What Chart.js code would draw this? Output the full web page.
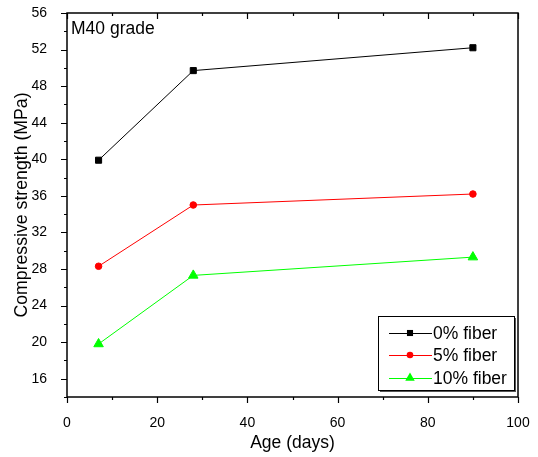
<!DOCTYPE html>
<html>
<head>
<meta charset="utf-8">
<script src="https://cdn.jsdelivr.net/npm/chart.js@4.4.0/dist/chart.umd.min.js"></script>
<style>
  body { margin: 0; background: #fff; }
  canvas { display: block; }
</style>
</head>
<body>
<canvas id="chart" width="538" height="457"></canvas>
<script>
// age in days and compressive strength (MPa), M40 grade
const days = [7, 28, 90]
const fiber0 = [39.9, 49.7, 52.2]
const fiber5 = [28.3, 35.0, 36.2]
const fiber10 = [19.8, 27.3, 29.3]
const seriesLabels = ['0% fiber', '5% fiber', '10% fiber']
const xTicks = [0, 20, 40, 60, 80, 100]
const yTicks = [16, 20, 24, 28, 32, 36, 40, 44, 48, 52, 56]

const FONT = 'Arial, "Liberation Sans", sans-serif'

function toPoints(vals) {
    return days.map((d, i) => ({ x: d, y: vals[i] }))
}

function marker(ctx, style, x, y, r) {
    ctx.beginPath()
    if (style == 'rect') {
        let s = r * Math.SQRT1_2
        ctx.rect(x - s, y - s, 2 * s, 2 * s)
    } else if (style == 'circle') {
        ctx.arc(x, y, r, 0, Math.PI * 2)
    } else {
        let w = r * Math.sqrt(3) / 2
        ctx.moveTo(x, y - r)
        ctx.lineTo(x + w, y + r / 2)
        ctx.lineTo(x - w, y + r / 2)
        ctx.closePath()
    }
    ctx.fill()
}

// frame, origin-style ticks, inner label and legend
const framePlugin = {
    id: 'frame',
    afterDraw(chart) {
        const ctx = chart.ctx
        const a = chart.chartArea
        const xs = chart.scales.x, ys = chart.scales.y
        ctx.save()
        ctx.strokeStyle = '#000'
        ctx.lineWidth = 1.5
        ctx.strokeRect(a.left, a.top, a.right - a.left, a.bottom - a.top)

        ctx.lineWidth = 1.2
        ctx.beginPath()
        for (let v = 0; v <= 100; v += 10) {
            let px = Math.round(xs.getPixelForValue(v)) + 0.5
            let len = v % 20 == 0 ? 6 : 3
            ctx.moveTo(px, a.bottom); ctx.lineTo(px, a.bottom + len)
            ctx.moveTo(px, a.top); ctx.lineTo(px, a.top + len)
        }
        for (let v = 14; v <= 56; v += 2) {
            let py = Math.round(ys.getPixelForValue(v)) + 0.5
            let len = v % 4 == 0 ? 6 : 3
            ctx.moveTo(a.left, py); ctx.lineTo(a.left - len, py)
        }
        ctx.stroke()

        ctx.fillStyle = '#000'
        ctx.font = '17.5px ' + FONT
        ctx.textBaseline = 'middle'
        ctx.textAlign = 'left'
        ctx.fillText('M40 grade', 71, 29)

        // legend box
        const bx = 378, by = 316, bw = 136, bh = 74
        ctx.fillStyle = '#555'
        ctx.fillRect(bx + 2, by + 2, bw, bh)
        ctx.fillStyle = '#fff'
        ctx.fillRect(bx, by, bw, bh)
        ctx.lineWidth = 1
        ctx.strokeStyle = '#000'
        ctx.strokeRect(bx + 0.5, by + 0.5, bw, bh)
        const rows = [333, 355, 378]
        chart.data.datasets.forEach((ds, i) => {
            let y = rows[i]
            ctx.strokeStyle = ds.borderColor
            ctx.lineWidth = 1
            ctx.beginPath()
            ctx.moveTo(389, y + 0.5); ctx.lineTo(432, y + 0.5)
            ctx.stroke()
            ctx.fillStyle = ds.pointBackgroundColor
            marker(ctx, ds.pointStyle, 410, y, ds.pointRadius)
            ctx.fillStyle = '#000'
            ctx.font = '17.5px ' + FONT
            ctx.fillText(ds.label, 433, y + 1)
        })
        ctx.restore()
    }
}

const ctx = document.getElementById('chart')
const config = {
    type: 'line',
    data: {
        datasets: [{
            label: seriesLabels[0],
            data: toPoints(fiber0),
            borderColor: '#000000',
            pointBackgroundColor: '#000000',
            pointBorderColor: '#000000',
            pointStyle: 'rect',
            pointRadius: 4.3,
            borderWidth: 1
        }, {
            label: seriesLabels[1],
            data: toPoints(fiber5),
            borderColor: '#ff0000',
            pointBackgroundColor: '#ff0000',
            pointBorderColor: '#ff0000',
            pointStyle: 'circle',
            pointRadius: 3.3,
            borderWidth: 1
        }, {
            label: seriesLabels[2],
            data: toPoints(fiber10),
            borderColor: '#00ff00',
            pointBackgroundColor: '#00ff00',
            pointBorderColor: '#00ff00',
            pointStyle: 'triangle',
            pointRadius: 5.5,
            borderWidth: 1
        }]
    },
    options: {
        responsive: false,
        animation: false,
        layout: { padding: { top: 13, right: 20, left: 0, bottom: 0 } },
        plugins: { legend: { display: false }, tooltip: { enabled: false } },
        elements: { point: { borderWidth: 1 } },
        scales: {
            x: {
                type: 'linear',
                min: 0, max: 100,
                afterBuildTicks: s => { s.ticks = xTicks.map(v => ({ value: v })) },
                afterFit: s => { s.height = 60; s.paddingLeft = 0; s.paddingRight = 0 },
                grid: { display: false },
                border: { display: false },
                ticks: { color: '#000', padding: 10, maxRotation: 0, font: { family: FONT, size: 14 } },
                title: { display: true, text: 'Age (days)', color: '#000', padding: { top: 0, bottom: 3 }, font: { family: FONT, size: 17.5 } }
            },
            y: {
                type: 'linear',
                min: 14, max: 56,
                afterBuildTicks: s => { s.ticks = yTicks.map(v => ({ value: v })) },
                afterFit: s => { s.width = 67; s.paddingTop = 0; s.paddingBottom = 0 },
                grid: { display: false },
                border: { display: false },
                ticks: { color: '#000', padding: 12, font: { family: FONT, size: 14 } },
                title: { display: true, text: 'Compressive strength (MPa)', color: '#000', padding: { top: 11, bottom: 0 }, font: { family: FONT, size: 17.7 } }
            }
        }
    },
    plugins: [framePlugin]
}
let chart = new Chart(ctx, config)
</script>
</body>
</html>
